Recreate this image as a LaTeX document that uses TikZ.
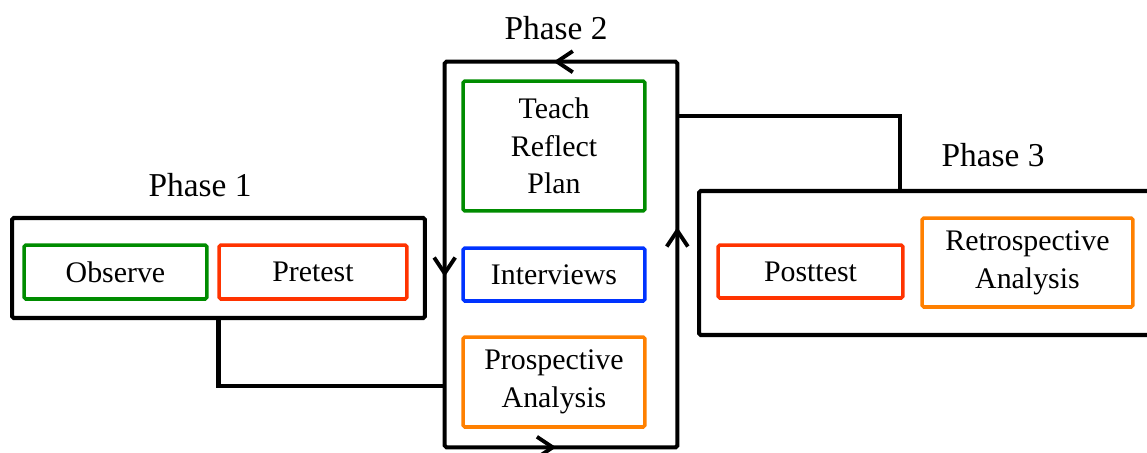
\documentclass[tikz,border=0pt]{standalone}
\usepackage{fontspec}
\setmainfont{Liberation Serif}
\usetikzlibrary{arrows.meta,decorations.markings}
\definecolor{vert}{RGB}{0,140,0}
\definecolor{rouge}{RGB}{255,51,0}
\definecolor{bleu}{RGB}{0,51,255}
\definecolor{orange}{RGB}{255,128,0}

\begin{document}
\begin{tikzpicture}[x=0.02cm, y=-0.02cm,
    cadre/.style={draw, line width=2.3pt, rounded corners=1pt},
    etape/.style={draw, line width=2pt, rounded corners=1pt, align=center,
      inner sep=0pt, font=\fontsize{17}{21.5}\selectfont},
    titre/.style={font=\fontsize{19}{23}\selectfont},
    tournant/.style={postaction={decorate}, decoration={markings,
      mark=at position 0.099 with {\arrow[line width=2.2pt]{Straight Barb[length=9pt,width=12pt]}},
      mark=at position 0.361 with {\arrow[line width=2.2pt]{Straight Barb[length=9pt,width=12pt]}},
      mark=at position 0.589 with {\arrow[line width=2.2pt]{Straight Barb[length=9pt,width=12pt]}},
      mark=at position 0.865 with {\arrow[line width=2.2pt]{Straight Barb[length=9pt,width=12pt]}}}}]
    \useasboundingbox (0,0) rectangle (1147,453);

    % Phase 1
    \node[titre] (t1) at (200,185) {Phase 1};
    \node[cadre, minimum width=8.26cm, minimum height=2cm] (p1) at (218.5,268) {};
    \node[etape, vert, text=black, minimum width=3.66cm, minimum height=1.08cm]
      (observe) at (115.5,272) {Observe};
    \node[etape, rouge, text=black, minimum width=3.76cm, minimum height=1.08cm]
      (pretest) at (313,272) {Pretest};

    % Phase 2
    \node[titre] (t2) at (556,28) {Phase 2};
    \node[minimum width=4.64cm, minimum height=7.7cm, inner sep=0pt] (p2) at (561,254.5) {};
    \draw[line width=2.3pt, rounded corners=1pt, tournant]
      (p2.north east) -- (p2.north west) -- (p2.south west) -- (p2.south east) -- cycle;
    \node[etape, vert, text=black, minimum width=3.64cm, minimum height=2.6cm]
      (teach) at (554,146) {Teach\\Reflect\\Plan};
    \node[etape, bleu, text=black, minimum width=3.64cm, minimum height=1.06cm]
      (interviews) at (554,274.5) {Interviews};
    \node[etape, orange, text=black, minimum width=3.64cm, minimum height=1.8cm]
      (prospective) at (554,382) {Prospective\\Analysis};

    % Phase 3
    \node[titre] (t3) at (993,155) {Phase 3};
    \node[cadre, minimum width=9.32cm, minimum height=2.88cm] (p3) at (932,263) {};
    \node[etape, rouge, text=black, minimum width=3.7cm, minimum height=1.06cm]
      (posttest) at (810.5,271.5) {Posttest};
    \node[etape, orange, text=black, minimum width=4.22cm, minimum height=1.78cm]
      (retro) at (1027.5,262.5) {Retrospective\\Analysis};

    % Liaisons
    \coordinate (j1) at (445,386);
    \coordinate (j2) at (677,116);
    \coordinate (j3) at (900,191);
    \draw[line width=2.3pt] (p1.south) |- (j1);
    \draw[line width=2.3pt] (j2) -| (j3);
  \end{tikzpicture}
\end{document}
